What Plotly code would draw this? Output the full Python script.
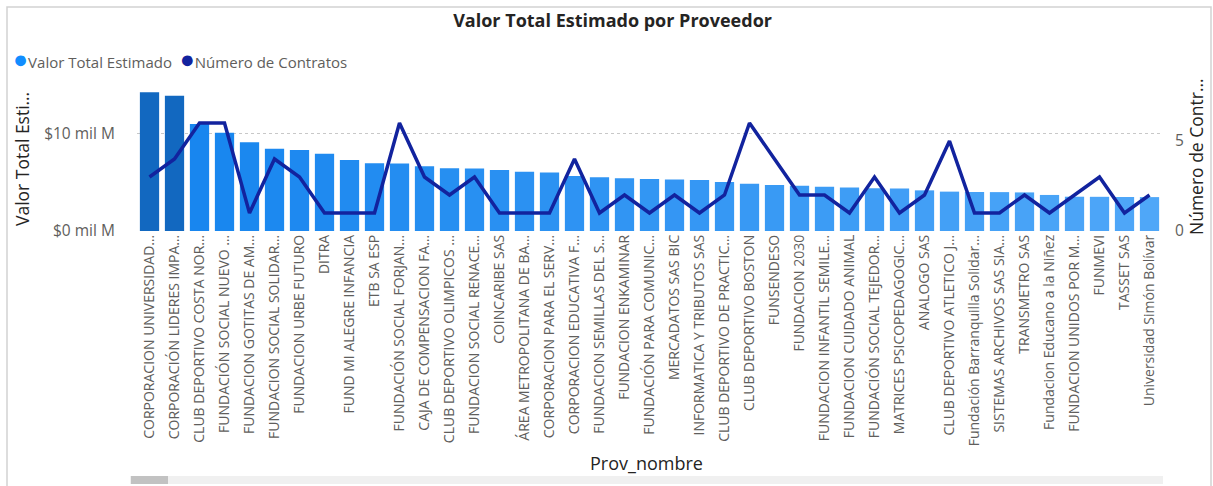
import plotly.graph_objects as go

proveedores = [
    "CORPORACION UNIVERSIDAD…", "CORPORACIÓN LIDERES IMPA…", "CLUB DEPORTIVO COSTA NOR…",
    "FUNDACIÓN SOCIAL NUEVO …", "FUNDACION GOTITAS DE AM…", "FUNDACION SOCIAL SOLIDAR…",
    "FUNDACION URBE FUTURO", "DITRA", "FUND MI ALEGRE INFANCIA", "ETB SA ESP",
    "FUNDACIÓN SOCIAL FORJAN…", "CAJA DE COMPENSACION FA…", "CLUB DEPORTIVO OLIMPICOS …",
    "FUNDACION SOCIAL RENACE…", "COINCARIBE SAS", "ÁREA METROPOLITANA DE BA…",
    "CORPORACION PARA EL SERV…", "CORPORACION EDUCATIVA F…", "FUNDACION SEMILLAS DEL S…",
    "FUNDACION ENKAMINAR", "FUNDACIÓN PARA COMUNIC…", "MERCADATOS SAS BIC",
    "INFORMATICA Y TRIBUTOS SAS", "CLUB DEPORTIVO DE PRACTIC…", "CLUB DEPORTIVO BOSTON",
    "FUNSENDESO", "FUNDACION 2030", "FUNDACION INFANTIL SEMILE…", "FUNDACION CUIDADO ANIMAL",
    "FUNDACIÓN SOCIAL TEJEDOR…", "MATRICES PSICOPEDAGOGIC…", "ANALOGO SAS",
    "CLUB DEPORTIVO ATLETICO J…", "Fundación Barranquilla Solidar…", "SISTEMAS ARCHIVOS SAS SIA…",
    "TRANSMETRO SAS", "Fundacion Educano a la Niñez", "FUNDACION UNIDOS POR M…",
    "FUNMEVI", "TASSET SAS", "Universidad Simón Bolívar",
]

# Valor Total Estimado (in pesos)
valor_total = [
    14.20e9, 13.85e9, 10.95e9, 10.06e9, 9.08e9, 8.42e9, 8.29e9, 7.91e9, 7.27e9, 6.93e9,
    6.92e9, 6.62e9, 6.41e9, 6.40e9, 6.24e9, 6.07e9, 6.00e9, 5.63e9, 5.49e9, 5.39e9,
    5.32e9, 5.26e9, 5.23e9, 5.01e9, 4.84e9, 4.71e9, 4.64e9, 4.54e9, 4.44e9, 4.37e9,
    4.34e9, 4.16e9, 4.03e9, 3.99e9, 3.98e9, 3.95e9, 3.69e9, 3.51e9, 3.50e9, 3.48e9, 3.47e9,
]

num_contratos = [3, 4, 6, 6, 1, 4, 3, 1, 1, 1, 6, 3, 2, 3, 1, 1, 1, 4, 1, 2, 1, 2, 1, 2, 6,
                 4, 2, 2, 1, 3, 1, 2, 5, 1, 1, 2, 1, 2, 3, 1, 2]

left_tickvals = [0, 1e10]
left_ticktext = ["$0 mil M", "$10 mil M"]
right_tickvals = [0, 5]

# styling: bar colours (two darkest, then light gradient)
def lerp(c1, c2, t):
    return "#" + "".join(f"{round(a + (b - a) * t):02x}" for a, b in zip(c1, c2))

n = len(proveedores)
colors = []
for i in range(n):
    if i < 2:
        colors.append("#1268c0")
    else:
        t = (i - 2) / (n - 3)
        colors.append(lerp((0x18, 0x86, 0xef), (0x4f, 0xa7, 0xf8), t))

FONT = "Open Sans"
W, H = 1213, 486
L, R, T, B = 137, 51, 88, 255
pw, ph = W - L - R, H - T - B

def px2x(px):
    return (px - L) / pw

def py2y(py):
    return (H - B - py) / ph

fig = go.Figure()
fig.add_trace(go.Bar(
    x=proveedores, y=valor_total, marker=dict(color=colors, line=dict(width=0)),
    name="Valor Total Estimado", yaxis="y",
))
fig.add_trace(go.Scatter(
    x=proveedores, y=num_contratos, mode="lines", line=dict(color="#12239E", width=3.5),
    name="Número de Contratos", yaxis="y2",
))

legend_html = ("<span style='color:#118DFF;font-size:25px'>●</span>Valor Total Estimado&nbsp;&nbsp;"
               "<span style='color:#12239E;font-size:25px'>●</span>Número de Contratos")

fig.update_layout(
    width=W, height=H,
    margin=dict(l=L, r=R, t=T, b=B, autoexpand=False),
    paper_bgcolor="white", plot_bgcolor="white",
    font=dict(family=FONT, color="#605E5C"),
    title=dict(text="<b>Valor Total Estimado por Proveedor</b>", x=0.505, xref="container",
               xanchor="center", y=1 - 21 / H, yanchor="middle",
               font=dict(size=18, color="#252423", family=FONT)),
    bargap=0.23,
    showlegend=False,
    xaxis=dict(
        tickangle=-90, tickfont=dict(size=14, color="#605E5C"), automargin=False,
        showgrid=False, showline=False, ticks="", zeroline=False,
    ),
    yaxis=dict(
        range=[0, ph / 9.77 * 1e9], tickvals=left_tickvals, ticktext=left_ticktext,
        tickfont=dict(size=15.5, color="#605E5C"), automargin=False,
        showgrid=True, gridcolor="#C8C8C8", griddash="dot", gridwidth=1,
        zeroline=False, showline=False, ticks="outside", ticklen=18, tickcolor="rgba(0,0,0,0)",
    ),
    yaxis2=dict(
        overlaying="y", side="right", range=[0, ph / 18.0], tickvals=right_tickvals,
        tickfont=dict(size=15.5, color="#605E5C"), automargin=False,
        showgrid=False, zeroline=False, showline=False,
        ticks="outside", ticklen=9, tickcolor="rgba(0,0,0,0)",
    ),
    annotations=[
        dict(text=legend_html, xref="paper", yref="paper", x=px2x(11), y=py2y(58),
             xanchor="left", yanchor="middle", showarrow=False,
             font=dict(size=15, color="#605E5C", family=FONT)),
        dict(text="Valor Total Esti…", xref="paper", yref="paper", x=px2x(22), y=py2y(159),
             xanchor="center", yanchor="middle", textangle=-90, showarrow=False,
             font=dict(size=17.5, color="#252423", family=FONT)),
        dict(text="Número de Contr…", xref="paper", yref="paper", x=px2x(1196), y=py2y(157),
             xanchor="center", yanchor="middle", textangle=-90, showarrow=False,
             font=dict(size=17.5, color="#252423", family=FONT)),
        dict(text="Prov_nombre", xref="paper", yref="paper", x=px2x(646), y=py2y(463),
             xanchor="center", yanchor="middle", showarrow=False,
             font=dict(size=18, color="#252423", family=FONT)),
    ],
    shapes=[
        # visual border
        dict(type="rect", xref="paper", yref="paper", x0=px2x(7), x1=px2x(1211),
             y0=py2y(495), y1=py2y(7), line=dict(color="#D2D2D2", width=1.5), layer="below"),
        # scrollbar track
        dict(type="rect", xref="paper", yref="paper", x0=px2x(130), x1=px2x(1163),
             y0=py2y(484), y1=py2y(476), fillcolor="#F0F0F0", line=dict(width=0)),
        # scrollbar thumb
        dict(type="rect", xref="paper", yref="paper", x0=px2x(131), x1=px2x(168),
             y0=py2y(484), y1=py2y(476), fillcolor="#C2C2C2", line=dict(width=0)),
    ],
)

fig.write_html("out.html", config={"displayModeBar": False},
               post_script="document.body.style.margin='0';document.body.style.overflow='hidden';")
